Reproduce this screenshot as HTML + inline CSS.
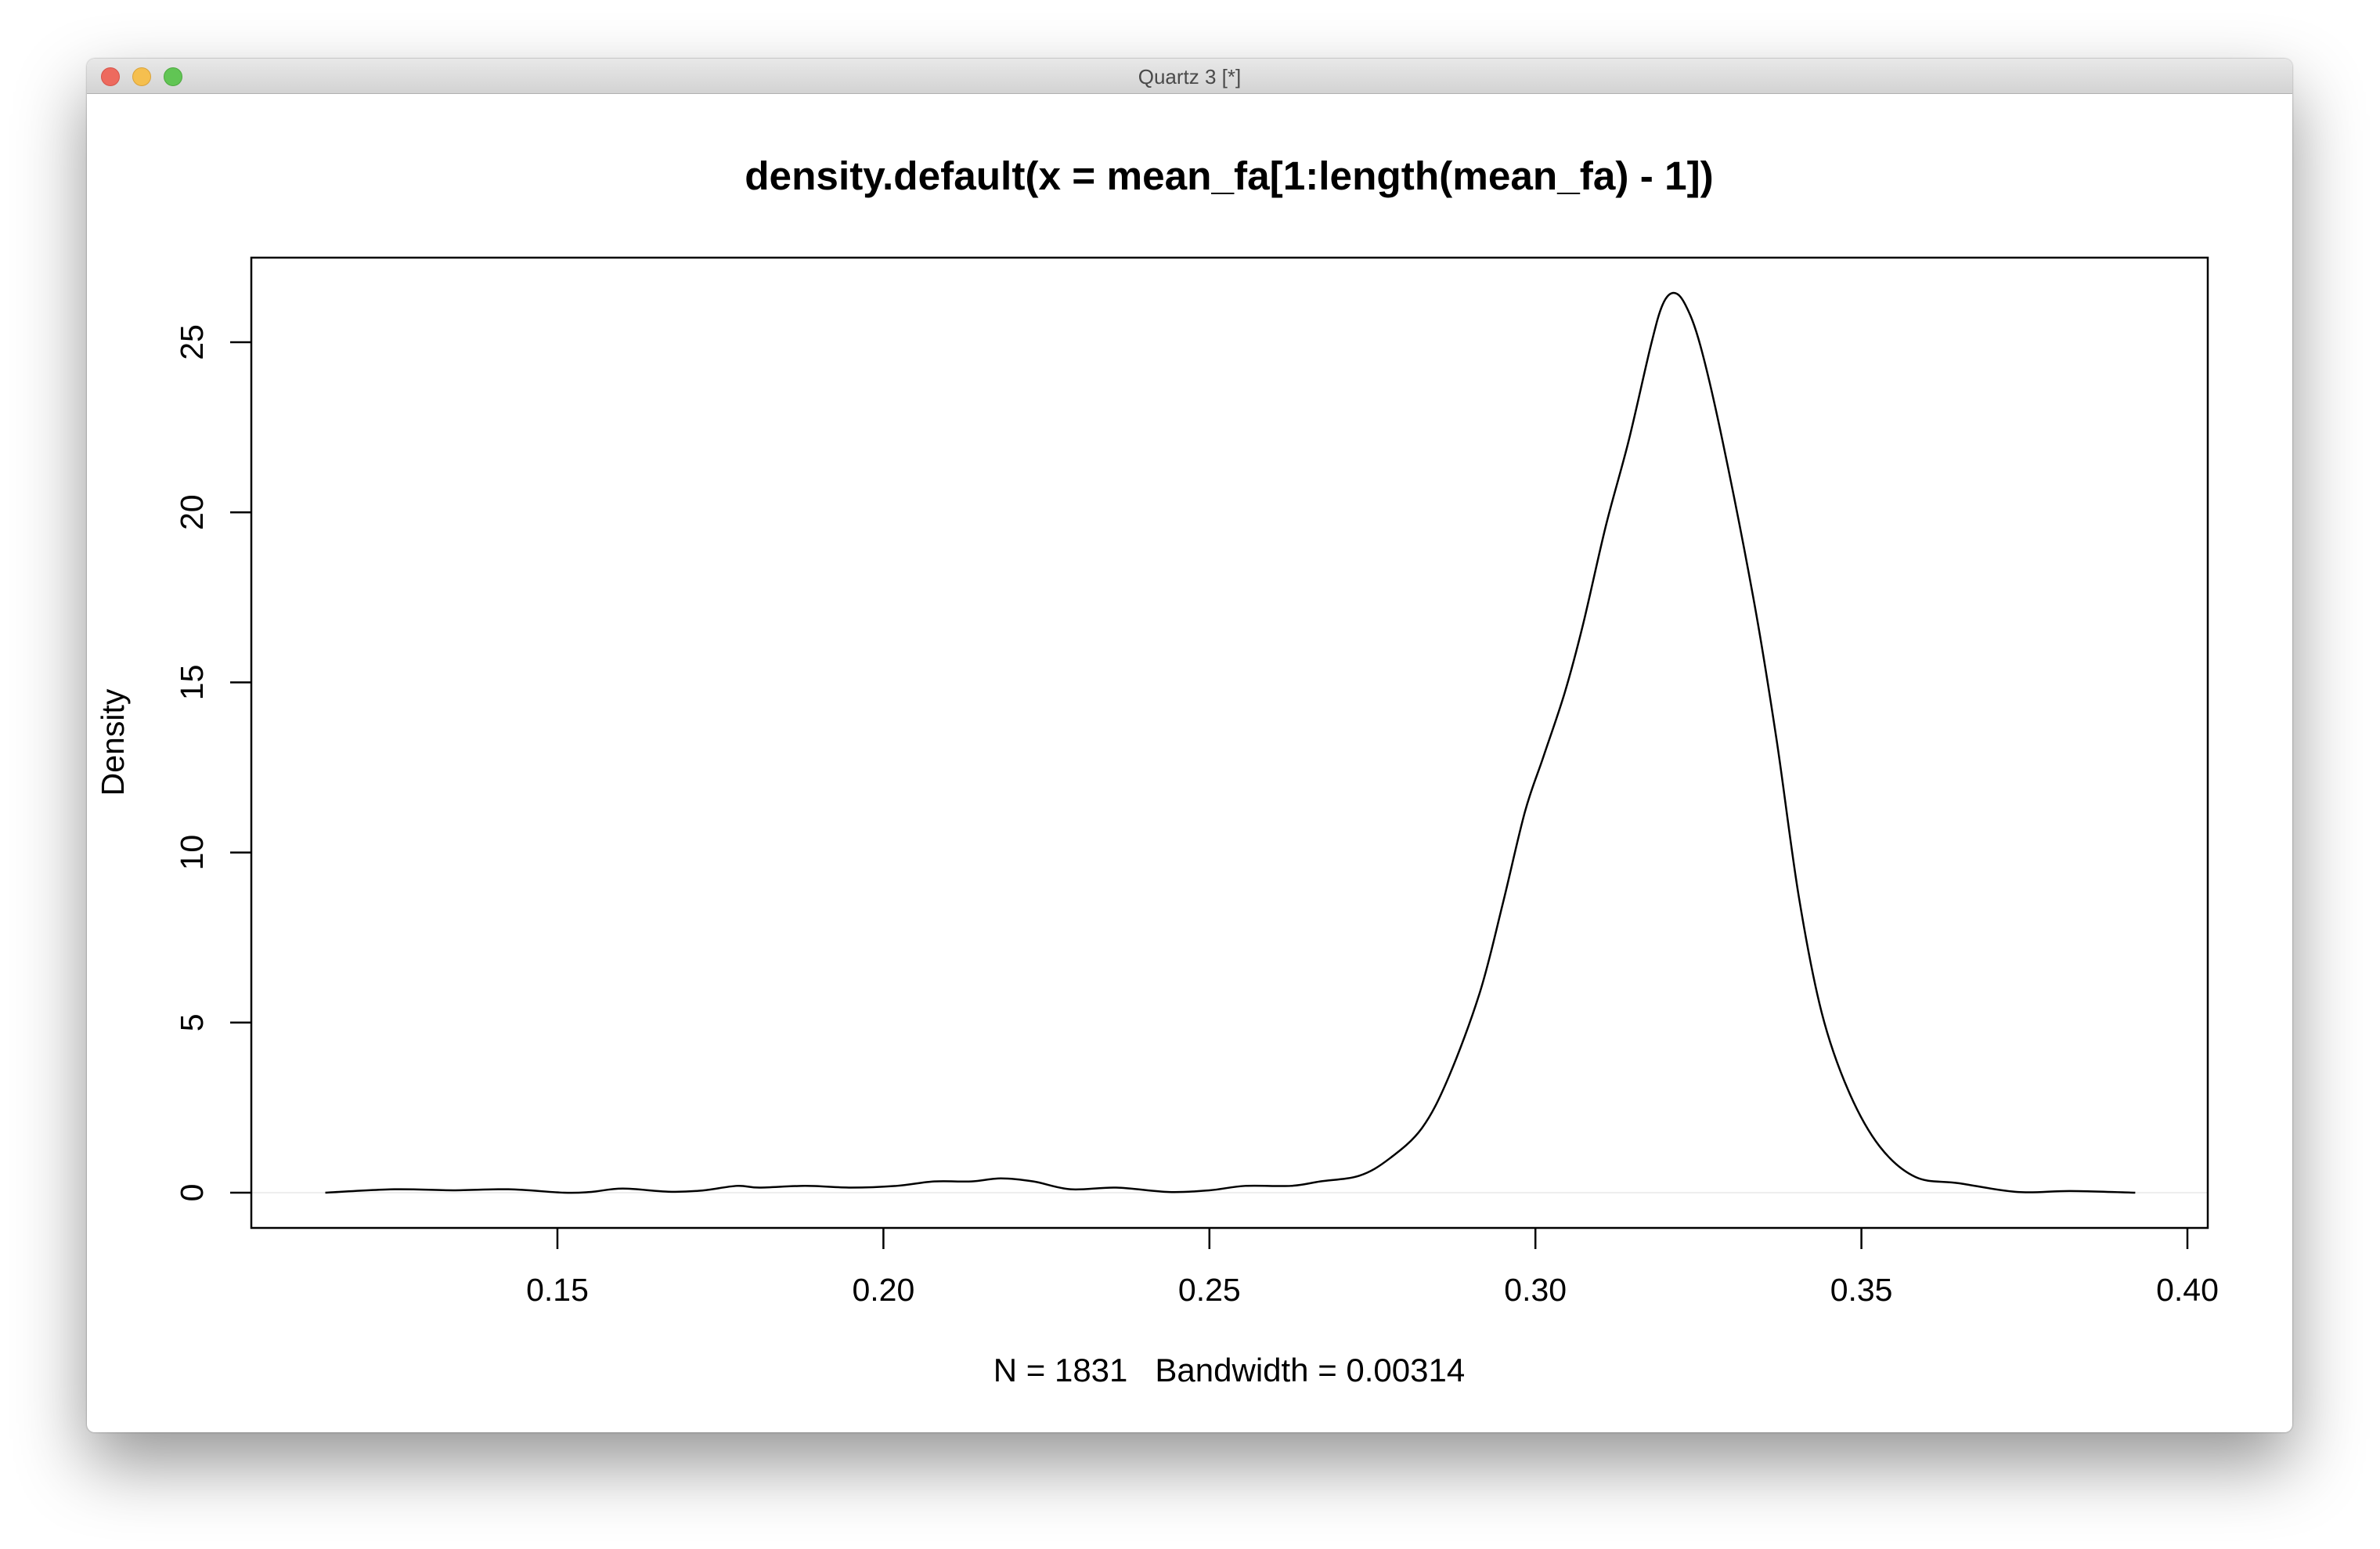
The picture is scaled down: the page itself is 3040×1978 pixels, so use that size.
<!DOCTYPE html>
<html><head><meta charset="utf-8"><style>
html,body{margin:0;padding:0;width:3040px;height:1978px;background:#fff;overflow:hidden}
#win{position:absolute;left:111px;top:75px;width:2817px;height:1754px;border-radius:10px;background:#fff;box-shadow:0 40px 90px rgba(0,0,0,0.42),0 0 2px rgba(0,0,0,0.4);overflow:hidden}
#tb{position:absolute;left:0;top:0;width:100%;height:44px;background:linear-gradient(#e8e8e8,#d3d3d3);border-bottom:1px solid #b0b0b0}
.dot{position:absolute;top:11px;width:22px;height:22px;border-radius:50%}
#wt{position:absolute;left:0;width:100%;top:8px;text-align:center;font:26px "Liberation Sans",sans-serif;color:#4a4a4a}
svg{position:absolute;left:0;top:0}
</style></head><body>
<div id="win">
<div id="tb">
<div class="dot" style="left:18px;background:#ed6a5e;border:1px solid #d5544a"></div>
<div class="dot" style="left:58px;background:#f5bf4f;border:1px solid #d9a23a"></div>
<div class="dot" style="left:98px;background:#61c554;border:1px solid #4da83f"></div>
<div id="wt">Quartz 3 [*]</div>
</div>
</div>
<svg id="chart" width="3040" height="1978"></svg>
<script>
const xTicks=[0.15,0.20,0.25,0.30,0.35,0.40];
const xTickLabels=["0.15","0.20","0.25","0.30","0.35","0.40"];
const yTicks=[0,5,10,15,20,25];
const yTickLabels=["0","5","10","15","20","25"];
const xs=[0.1144,0.125,0.134,0.1425,0.151,0.155,0.16,0.167,0.172,0.1775,0.181,0.188,0.195,0.202,0.2078,0.2135,0.218,0.223,0.2287,0.2357,0.2438,0.25,0.2555,0.2625,0.267,0.273,0.2776,0.2826,0.2867,0.2915,0.295,0.2984,0.3012,0.3045,0.3073,0.3108,0.3143,0.3177,0.3195,0.3212,0.3230,0.3253,0.3287,0.3336,0.337,0.3404,0.3439,0.348,0.3528,0.3583,0.3649,0.374,0.382,0.392];
const ys=[0,0.1,0.07,0.1,0,0.02,0.12,0.03,0.06,0.2,0.15,0.2,0.15,0.2,0.33,0.33,0.42,0.33,0.1,0.15,0.02,0.07,0.2,0.2,0.33,0.5,1.0,1.9,3.4,5.9,8.5,11.2,12.8,14.7,16.7,19.6,22.1,24.9,26.1,26.45,26.1,24.9,22.1,17.3,13.3,8.7,5.3,3.0,1.36,0.46,0.28,0.02,0.05,0];
const NS="http://www.w3.org/2000/svg";
const svg=document.getElementById('chart');
const L=321,R=2820,T=329,B=1568;
const X=v=>712+(v-0.15)/0.05*416.4;
const Y=v=>1523-v*43.44;
function mk(t,a,txt){const e=document.createElementNS(NS,t);for(const k in a)e.setAttribute(k,a[k]);if(txt!==undefined)e.textContent=txt;svg.appendChild(e);return e;}
let e;
e=mk('text',{x:1570,y:242,'text-anchor':'middle','font-family':'Liberation Sans, sans-serif','font-size':51.3,'font-weight':'bold'},'density.default(x = mean_fa[1:length(mean_fa) - 1])');


e=mk('line',{x1:L,x2:R,y1:Y(0),y2:Y(0),stroke:'#eeeeee','stroke-width':2});


e=mk('rect',{x:L,y:T,width:R-L,height:B-T,fill:'none',stroke:'#000','stroke-width':2.5});


xTicks.forEach((v,i)=>{
 e=mk('line',{x1:X(v),x2:X(v),y1:B,y2:B+27,stroke:'#000','stroke-width':2.5});
 
 
 e=mk('text',{x:X(v),y:1661,'text-anchor':'middle','font-family':'Liberation Sans, sans-serif','font-size':41},xTickLabels[i]);
 
 
});
yTicks.forEach((v,i)=>{
 e=mk('line',{x1:L-27,x2:L,y1:Y(v),y2:Y(v),stroke:'#000','stroke-width':2.5});
 
 
 e=mk('text',{x:0,y:0,transform:`translate(259,${Y(v)}) rotate(-90)`,'text-anchor':'middle','font-family':'Liberation Sans, sans-serif','font-size':41},yTickLabels[i]);
 
 
});
e=mk('text',{x:0,y:0,transform:'translate(158,948) rotate(-90)','text-anchor':'middle','font-family':'Liberation Sans, sans-serif','font-size':41},'Density');


e=mk('text',{x:1570,y:1764,'text-anchor':'middle','font-family':'Liberation Sans, sans-serif','font-size':42,'xml:space':'preserve'},'N = 1831   Bandwidth = 0.00314');
e.setAttribute('style','white-space:pre');


const P=xs.map((v,i)=>[X(v),Y(ys[i])]);
let d=`M${P[0][0]},${P[0][1]}`;
for(let i=0;i<P.length-1;i++){const p0=P[i-1]||P[i],p1=P[i],p2=P[i+1],p3=P[i+2]||P[i+1];
 d+=` C${p1[0]+(p2[0]-p0[0])/6},${p1[1]+(p2[1]-p0[1])/6} ${p2[0]-(p3[0]-p1[0])/6},${p2[1]-(p3[1]-p1[1])/6} ${p2[0]},${p2[1]}`;}
e=mk('path',{d:d,fill:'none',stroke:'#000','stroke-width':2.5,'stroke-linejoin':'round'});


</script>
</body></html>
